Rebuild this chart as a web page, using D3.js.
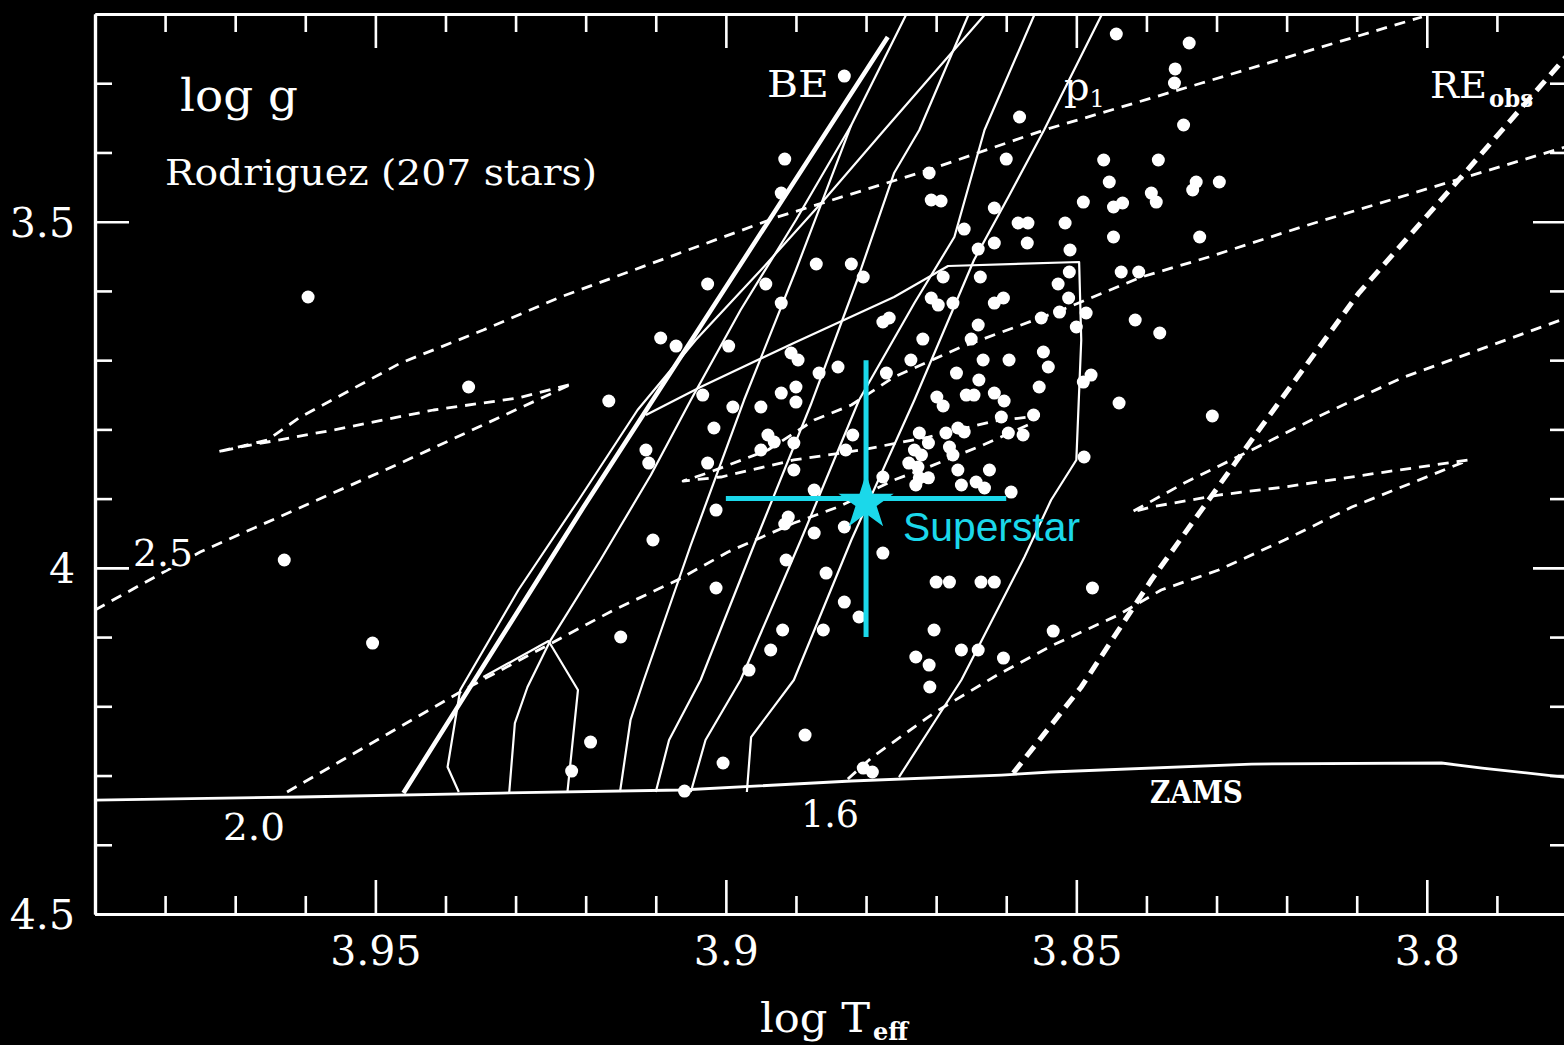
<!DOCTYPE html>
<html><head><meta charset="utf-8">
<script src="https://cdn.jsdelivr.net/npm/d3@7"></script>
<style>body{margin:0;background:#000}svg{display:block}</style>
</head><body>
<svg id="c" width="1564" height="1045"></svg>
<script>
// ---------- tick data ----------
const xMajorTicks=[3.95,3.9,3.85,3.8];
const xTickLabels=["3.95","3.9","3.85","3.8"];
const xMinorTicks=[3.98,3.97,3.96,3.94,3.93,3.92,3.91,3.89,3.88,3.87,3.86,3.84,3.83,3.82,3.81,3.79];
const yMajorTicks=[3.5,4,4.5];
const yTickLabels=["3.5","4","4.5"];
const yMinorTicks=[3.3,3.4,3.6,3.7,3.8,3.9,4.1,4.2,4.3,4.4];

// ---------- stars [log Teff, log g] ----------
const stars=[
[3.9596,3.6088],[3.9630,3.9887],[3.9504,4.1086],[3.9367,3.7388],[3.9167,3.7590],[3.9193,4.2516],[3.9220,4.2935],[3.9150,4.0999],[3.9059,4.3224],
[3.8831,3.2896],[3.8916,3.4095],[3.8921,3.4586],[3.8871,3.5611],[3.8821,3.5611],[3.8804,3.5799],[3.8943,3.5900],[3.9026,3.5900],[3.8921,3.6175],[3.9093,3.6680],[3.9071,3.6796],[3.8996,3.6796],[3.8907,3.6897],[3.8897,3.6998],[3.8840,3.7099],[3.8867,3.7186],[3.9033,3.7504],[3.8921,3.7475],[3.8900,3.7388],[3.8900,3.7605],[3.8990,3.7677],[3.8950,3.7677],
[3.9017,3.7980],[3.8940,3.8081],[3.8931,3.8182],[3.8903,3.8197],[3.9114,3.8298],[3.9110,3.8486],[3.9026,3.8486],[3.8950,3.8298],[3.8903,3.8587],[3.8819,3.8081],[3.8829,3.8298],[3.8874,3.8876],[3.9014,3.9165],[3.8911,3.9266],[3.8916,3.9367],[3.8874,3.9497],[3.8831,3.9410],[3.9104,3.9598],[3.8914,3.9887],[3.8857,4.0075],[3.8776,3.9786],[3.9014,4.0291],[3.8831,4.0494],[3.8810,4.0710],[3.8919,4.0898],[3.8861,4.0898],[3.8936,4.1187],[3.8967,4.1476],[3.9004,4.2819],[3.8887,4.2415],[3.8804,4.2892],[3.8791,4.2949],
[3.8724,3.8052],[3.8731,3.8298],[3.8721,3.8370],[3.8739,3.8486],[3.8726,3.8544],[3.8711,3.8197],[3.8686,3.8052],[3.8669,3.7980],[3.8681,3.8255],[3.8676,3.8370],[3.8660,3.8038],[3.8669,3.8587],[3.8624,3.8587],[3.8607,3.7821],[3.8597,3.8052],[3.8576,3.8081],[3.8561,3.7792],[3.8724,3.8700],[3.8711,3.8700],[3.8729,3.8803],[3.8664,3.8803],[3.8643,3.8760],[3.8631,3.8847],[3.8593,3.8905],[3.8776,3.8688],[3.8699,3.7532],[3.8690,3.7662],[3.8603,3.7590],[3.8657,3.7504],[3.8646,3.7504],[3.8617,3.7475],
[3.8710,3.4297],[3.8707,3.4687],[3.8693,3.4701],[3.8600,3.4095],[3.8617,3.4802],[3.8660,3.5106],[3.8583,3.5019],[3.8569,3.5019],[3.8617,3.5308],[3.8570,3.5308],[3.8640,3.5395],[3.8690,3.5799],[3.8637,3.5799],[3.8526,3.5900],[3.8707,3.6102],[3.8697,3.6204],[3.8676,3.6175],[3.8617,3.6175],[3.8604,3.6102],[3.8776,3.6449],[3.8767,3.6391],[3.8640,3.6492],[3.8524,3.6305],[3.8719,3.6695],[3.8650,3.6695],[3.8550,3.6391],[3.8736,3.6998],[3.8633,3.6998],[3.8596,3.6998],[3.8547,3.6882],[3.8540,3.7099],[3.8771,3.7186],[3.8671,3.7186],[3.8639,3.7287],[3.8553,3.7388],[3.8581,3.3488],
[3.8443,3.2289],[3.8339,3.2419],[3.8359,3.2794],[3.8360,3.2997],[3.8347,3.3603],[3.8461,3.4109],[3.8383,3.4109],[3.8453,3.4427],[3.8329,3.4427],[3.8334,3.4542],[3.8296,3.4427],[3.8490,3.4716],[3.8447,3.4788],[3.8434,3.4730],[3.8393,3.4586],[3.8386,3.4716],[3.8516,3.5019],[3.8447,3.5221],[3.8324,3.5221],[3.8509,3.5409],[3.8436,3.5727],[3.8411,3.5727],[3.8510,3.5727],[3.8511,3.6102],[3.8486,3.6319],[3.8500,3.6521],[3.8416,3.6420],[3.8381,3.6608],[3.8490,3.7316],[3.8479,3.7215],[3.8439,3.7619],[3.8306,3.7807],[3.8489,3.8399],[3.8477,4.0291],[3.8533,4.0913],
[3.8700,4.0205],[3.8681,4.0205],[3.8636,4.0205],[3.8617,4.0205],[3.8703,4.0898],[3.8729,4.1288],[3.8710,4.1404],[3.8709,4.1721],[3.8664,4.1187],[3.8640,4.1187],[3.8604,4.1303]
];

// ---------- lines [log Teff, log g] ----------
const zams=[[3.99,4.3354],[3.9607,4.3310],[3.9321,4.3253],[3.9064,4.3209],[3.8821,4.3079],[3.8607,4.2993],[3.8536,4.2949],[3.8250,4.2834],[3.7979,4.2819],[3.7921,4.2892],[3.7793,4.3036]];
const track25=[[3.99,4.0609],[3.975,3.9771],[3.9464,3.8486],[3.9226,3.7374],[3.9219,3.7345],[3.9297,3.7547],[3.9417,3.7720],[3.9560,3.8009],[3.9693,3.8255],[3.9726,3.8327],[3.9654,3.8154],[3.9607,3.7821],[3.9464,3.7041],[3.9346,3.6565],[3.9236,3.6088],[3.8926,3.4932],[3.8711,3.4253],[3.8546,3.3676],[3.8321,3.2997],[3.8179,3.2563],[3.8007,3.2043]];
const track20=[[3.9626,4.3238],[3.9369,4.1736],[3.9160,4.0609],[3.9069,4.0176],[3.8997,3.9771],[3.8903,3.9353],[3.8840,3.9121],[3.8760,3.8731],[3.8711,3.8544],[3.8640,3.8255],[3.8569,3.7937],[3.8554,3.7807],[3.8617,3.7879],[3.8711,3.8110],[3.8807,3.8298],[3.8903,3.8442],[3.9007,3.8688],[3.9061,3.8746],[3.9026,3.8630],[3.8940,3.8298],[3.8874,3.7865],[3.8821,3.7648],[3.8760,3.7244],[3.8664,3.6810],[3.8521,3.6276],[3.8407,3.5799],[3.8311,3.5510],[3.8179,3.5077],[3.7793,3.3892]];
const track16=[[3.8826,4.3050],[3.8791,4.2733],[3.8701,4.2082],[3.8613,4.1548],[3.8536,4.1129],[3.8440,4.0681],[3.8379,4.0320],[3.8297,4.0031],[3.8203,3.9598],[3.8107,3.9121],[3.7940,3.8442],[3.8060,3.8616],[3.8203,3.8832],[3.8297,3.8948],[3.8393,3.9121],[3.8421,3.9194],[3.8346,3.8775],[3.8250,3.8298],[3.8150,3.7792],[3.8036,3.7258],[3.7793,3.6362]];
const redEdgeObs=[[3.8590,4.2964],[3.8493,4.1721],[3.8393,4.0176],[3.8250,3.8154],[3.8097,3.6030],[3.7946,3.4297],[3.7793,3.2520]];
const blueEdge=[[3.9460,4.3253],[3.9203,3.9121],[3.8769,3.2332]];
const thin1=[[3.9381,4.3238],[3.9397,4.2877],[3.9379,4.1765],[3.9296,4.0320],[3.9210,3.9020],[3.9126,3.7720],[3.9043,3.6709],[3.8950,3.5698],[3.8860,3.4687],[3.8774,3.3676],[3.8631,3.2014]];
const thin2=[[3.9309,4.3238],[3.9301,4.2242],[3.9283,4.1721],[3.9250,4.1043],[3.9179,3.9887],[3.9107,3.8659],[3.9050,3.7576],[3.8979,3.6276],[3.8900,3.4976],[3.8821,3.3603],[3.8743,3.2014]];
const thin3=[[3.9151,4.3238],[3.9136,4.2198],[3.9117,4.1620],[3.9050,3.9670],[3.8974,3.7576],[3.8900,3.5698],[3.8821,3.3603]];
const thin4=[[3.9100,4.3238],[3.9081,4.2487],[3.9036,4.1620],[3.8957,3.9598],[3.8879,3.7648],[3.8811,3.5799],[3.8760,3.4297],[3.8724,3.3676],[3.8654,3.2014]];
const thin5=[[3.9050,4.3238],[3.9029,4.2487],[3.8979,4.1620],[3.8893,3.9598],[3.8810,3.7576],[3.8731,3.6175],[3.8674,3.5221],[3.8631,3.3676],[3.8560,3.2014]];
const thin6=[[3.8970,4.3238],[3.8964,4.2444],[3.8903,4.1620],[3.8821,3.9598],[3.8731,3.7576],[3.8646,3.5553],[3.8597,3.4643],[3.8546,3.3676],[3.8464,3.2014]];
const zigzag=[[3.9346,4.1577],[3.9253,4.1057],[3.9211,4.1765],[3.9226,4.3238]];
const strip=[[3.9114,3.7792],[3.9036,3.7388],[3.8903,3.6752],[3.8760,3.6088],[3.8683,3.5640],[3.8496,3.5582],[3.8493,3.6709],[3.8500,3.8442],[3.8536,3.9020],[3.8574,3.9844],[3.8664,4.1620],[3.8753,4.3022]];
const superstar=[3.88,3.90];
const superErr=[0.02,0.20];

// ---------- setup ----------
const W=1564,H=1045;
const L=95,R=1567,T=14,B=914;
const x=d3.scaleLinear().domain([3.99,3.78]).range([L,R]);
const y=d3.scaleLinear().domain([3.2,4.5]).range([T,B]);
const svg=d3.select('#c');
svg.append('rect').attr('width',W).attr('height',H).attr('fill','#000');
svg.append('clipPath').attr('id','clip').append('rect').attr('x',L).attr('y',T).attr('width',R-L).attr('height',B-T);
const plot=svg.append('g').attr('clip-path','url(#clip)');
const line=d3.line().x(d=>x(d[0])).y(d=>y(d[1]));
const WHITE='#ffffff', CYAN='#1bd8ea';
const SERIF='DejaVu Serif';

// dashed evolutionary tracks
[track25,track20,track16].forEach(t=>{
  plot.append('path').attr('d',line(t)).attr('fill','none').attr('stroke',WHITE)
    .attr('stroke-width',2.8).attr('stroke-dasharray','11,8').attr('stroke-linejoin','round');
});
// thin solid lines
[thin1,thin2,thin3,thin4,thin5,thin6,zigzag,strip].forEach(t=>{
  plot.append('path').attr('d',line(t)).attr('fill','none').attr('stroke',WHITE)
    .attr('stroke-width',2.2).attr('stroke-linejoin','round');
});
// blue edge
plot.append('path').attr('d',line(blueEdge)).attr('fill','none').attr('stroke',WHITE).attr('stroke-width',4.5);
// observed red edge
plot.append('path').attr('d',line(redEdgeObs)).attr('fill','none').attr('stroke',WHITE)
  .attr('stroke-width',5).attr('stroke-dasharray','13,8');
// ZAMS
plot.append('path').attr('d',line(zams)).attr('fill','none').attr('stroke',WHITE).attr('stroke-width',2.8);
// stars
plot.selectAll('circle.star').data(stars).join('circle').attr('class','star')
  .attr('cx',d=>x(d[0])).attr('cy',d=>y(d[1])).attr('r',6.5).attr('fill',WHITE);

// ---------- axes ----------
function styleAxis(g){
  g.attr('font-family',SERIF).attr('font-size',41);
  g.select('.domain').attr('stroke',WHITE).attr('stroke-width',3.2);
  g.selectAll('.tick line').attr('stroke',WHITE).attr('stroke-width',2.6);
  g.selectAll('.tick text').attr('fill',WHITE);
}
const gxb=svg.append('g').attr('transform',`translate(0,${B})`)
  .call(d3.axisBottom(x).tickValues(xMajorTicks).tickSize(-34).tickSizeOuter(0).tickPadding(22).tickFormat((d,i)=>xTickLabels[i]));
styleAxis(gxb);
const gxbm=svg.append('g').attr('transform',`translate(0,${B})`)
  .call(d3.axisBottom(x).tickValues(xMinorTicks).tickSize(-18).tickSizeOuter(0).tickFormat(''));
styleAxis(gxbm);
const gxt=svg.append('g').attr('transform',`translate(0,${T})`)
  .call(d3.axisTop(x).tickValues(xMajorTicks).tickSize(-34).tickSizeOuter(0).tickFormat(''));
styleAxis(gxt);
const gxtm=svg.append('g').attr('transform',`translate(0,${T})`)
  .call(d3.axisTop(x).tickValues(xMinorTicks).tickSize(-18).tickSizeOuter(0).tickFormat(''));
styleAxis(gxtm);
const gyl=svg.append('g').attr('transform',`translate(${L},0)`)
  .call(d3.axisLeft(y).tickValues(yMajorTicks).tickSize(-34).tickSizeOuter(0).tickPadding(20).tickFormat((d,i)=>yTickLabels[i]));
styleAxis(gyl);
gyl.selectAll('.tick text').attr('dy','0.36em');
const gylm=svg.append('g').attr('transform',`translate(${L},0)`)
  .call(d3.axisLeft(y).tickValues(yMinorTicks).tickSize(-17).tickSizeOuter(0).tickFormat(''));
styleAxis(gylm);
const gyr=svg.append('g').attr('transform',`translate(${R},0)`)
  .call(d3.axisRight(y).tickValues(yMajorTicks).tickSize(-34).tickSizeOuter(0).tickFormat(''));
styleAxis(gyr);
const gyrm=svg.append('g').attr('transform',`translate(${R},0)`)
  .call(d3.axisRight(y).tickValues(yMinorTicks).tickSize(-17).tickSizeOuter(0).tickFormat(''));
styleAxis(gyrm);

// ---------- labels ----------
function label(txt,px,py,size,opts={}){
  const t=svg.append('text').attr('x',px).attr('y',py).attr('fill',WHITE)
    .attr('font-family',opts.family||SERIF).attr('font-size',size).text(txt);
  if(opts.len) t.attr('textLength',opts.len).attr('lengthAdjust','spacingAndGlyphs');
  if(opts.weight) t.attr('font-weight',opts.weight);
  if(opts.halo) t.attr('stroke','#000').attr('stroke-width',8).attr('paint-order','stroke');
  return t;
}
label('log g',180,111,44,{len:118});
label('Rodriguez (207 stars)',165,185,35,{len:432});
label('BE',767,97,37,{len:62});
const p1=label('p',1064,100,40);
p1.append('tspan').attr('font-size',24).attr('dy',7).text('1');
label('RE',1430,98,38,{len:57});
svg.append('text').attr('x',1489).attr('y',107).attr('fill',WHITE).attr('font-family',SERIF)
  .attr('font-size',24).attr('font-weight','bold').attr('textLength',44).attr('lengthAdjust','spacingAndGlyphs').text('obs');
label('ZAMS',1150,803,32,{len:93,weight:'bold'});
label('2.5',133,566,37,{len:60,halo:true});
label('2.0',223,840,38,{len:62});
label('1.6',801,827,38,{len:58});
label('log T',760,1032,41,{len:110});
svg.append('text').attr('x',873).attr('y',1040).attr('fill',WHITE).attr('font-family',SERIF)
  .attr('font-size',24).attr('font-weight','bold').text('eff');

// ---------- superstar ----------
const sx=x(superstar[0]), sy=y(superstar[1]);
const sg=svg.append('g');
sg.append('line').attr('x1',x(superstar[0]+superErr[0])).attr('x2',x(superstar[0]-superErr[0]))
  .attr('y1',sy).attr('y2',sy).attr('stroke',CYAN).attr('stroke-width',5);
sg.append('line').attr('x1',sx).attr('x2',sx)
  .attr('y1',y(superstar[1]-superErr[1])).attr('y2',y(superstar[1]+superErr[1])).attr('stroke',CYAN).attr('stroke-width',5);
sg.append('path').attr('d',d3.symbol(d3.symbolStar,950)()).attr('transform',`translate(${sx},${sy+4})`).attr('fill',CYAN);
sg.append('text').attr('x',903).attr('y',541).attr('fill',CYAN).attr('font-family','Liberation Sans, Arial, sans-serif')
  .attr('font-size',40).attr('textLength',177).attr('lengthAdjust','spacingAndGlyphs').text('Superstar');
</script>
</body></html>
